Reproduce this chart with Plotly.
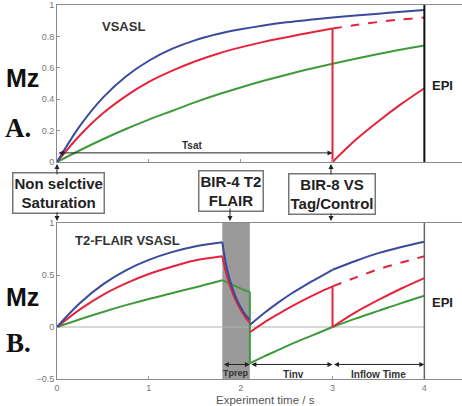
import plotly.graph_objects as go

# ---------------- data ----------------
# Panel A (VSASL)
t_a = [0, 0.25, 0.5, 0.75, 1.0, 1.25, 1.5, 1.75, 2.0, 2.25, 2.5, 2.75, 3.0, 3.25, 3.5, 3.75, 4.0]
blue_a = [0, 0.23, 0.41, 0.545, 0.645, 0.72, 0.775, 0.815, 0.845, 0.87, 0.89, 0.906, 0.92, 0.933, 0.945, 0.957, 0.968]
green_a = [0, 0.075, 0.145, 0.21, 0.27, 0.325, 0.38, 0.43, 0.475, 0.517, 0.556, 0.592, 0.626, 0.658, 0.688, 0.716, 0.742]
t_a_red = [0, 0.25, 0.5, 0.75, 1.0, 1.25, 1.5, 1.75, 2.0, 2.25, 2.5, 2.75, 3.0]
red_a = [0, 0.17, 0.31, 0.42, 0.51, 0.58, 0.64, 0.69, 0.73, 0.765, 0.795, 0.823, 0.85]
t_a_after = [3.0, 3.25, 3.5, 3.75, 4.0]
red_a_dashed = [0.85, 0.872, 0.892, 0.908, 0.92]
red_a_tag = [0, 0.14, 0.26, 0.37, 0.47]

# Panel B (T2-FLAIR VSASL)
t_b_pre = [0, 0.25, 0.5, 0.75, 1.0, 1.25, 1.5, 1.8]
blue_b_pre = [0, 0.23, 0.41, 0.545, 0.645, 0.72, 0.775, 0.815]
red_b_pre = [0, 0.17, 0.31, 0.42, 0.51, 0.58, 0.64, 0.68]
green_b_pre = [0, 0.075, 0.145, 0.21, 0.27, 0.325, 0.38, 0.45]
t_b_prep = [1.8, 1.85, 1.9, 1.95, 2.0, 2.05, 2.1]
blue_b_prep = [0.815, 0.56, 0.40, 0.28, 0.19, 0.12, 0.07]
red_b_prep = [0.68, 0.49, 0.355, 0.25, 0.165, 0.095, 0.04]
green_b_prep = [0.45, 0.43, 0.41, 0.39, 0.37, 0.35, 0.34]
t_b_inv = [2.1, 2.25, 2.4, 2.55, 2.7, 2.85, 3.0]
blue_b_inv = [0.02, 0.13, 0.23, 0.32, 0.40, 0.475, 0.55]
red_b_inv = [-0.05, 0.04, 0.12, 0.195, 0.265, 0.33, 0.39]
green_b_inv = [-0.35, -0.285, -0.225, -0.165, -0.11, -0.055, 0.0]
t_b_in = [3.0, 3.25, 3.5, 3.75, 4.0]
blue_b_in = [0.55, 0.635, 0.71, 0.77, 0.82]
red_b_dashed = [0.39, 0.475, 0.555, 0.62, 0.68]
red_b_tag = [0.0, 0.14, 0.26, 0.37, 0.47]
green_b_in = [0.0, 0.08, 0.155, 0.23, 0.30]

t_prep = [1.8, 2.1]
t_tag = 3.0
t_epi = 4.0

BLUE = "#3a4a9c"
RED = "#e3243b"
GREEN = "#3f9a3a"
SANS = "Liberation Sans, Arial, sans-serif"
SERIF = "Liberation Serif, Times New Roman, serif"

fig = go.Figure()


def line(x, y, color, xa, ya, dash="solid", shape="spline"):
    fig.add_trace(go.Scatter(x=x, y=y, mode="lines",
                             line=dict(color=color, width=2, dash=dash, shape=shape, smoothing=1.0),
                             xaxis=xa, yaxis=ya, hoverinfo="skip", showlegend=False))


# Panel A
line(t_a, green_a, GREEN, "x", "y")
line(t_a_red, red_a, RED, "x", "y")
line([t_tag, t_tag], [red_a[-1], red_a_tag[0]], RED, "x", "y", shape="linear")
line(t_a_after, red_a_dashed, RED, "x", "y", dash="dash")
line(t_a_after, red_a_tag, RED, "x", "y")
line(t_a, blue_a, BLUE, "x", "y")

# Panel B
line(t_b_pre, green_b_pre, GREEN, "x2", "y2")
line(t_b_pre, red_b_pre, RED, "x2", "y2")
line(t_b_pre, blue_b_pre, BLUE, "x2", "y2")
line(t_b_prep, green_b_prep, GREEN, "x2", "y2", shape="linear")
line([t_prep[1], t_prep[1]], [green_b_prep[-1], green_b_inv[0]], GREEN, "x2", "y2", shape="linear")
line(t_b_prep, red_b_prep, RED, "x2", "y2")
line(t_b_prep, blue_b_prep, BLUE, "x2", "y2")
line(t_b_inv, green_b_inv, GREEN, "x2", "y2")
line(t_b_in, green_b_in, GREEN, "x2", "y2")
line(t_b_inv, red_b_inv, RED, "x2", "y2")
line([t_tag, t_tag], [red_b_inv[-1], red_b_tag[0]], RED, "x2", "y2", shape="linear")
line(t_b_in, red_b_dashed, RED, "x2", "y2", dash="dash")
line(t_b_in, red_b_tag, RED, "x2", "y2")
line(t_b_inv, blue_b_inv, BLUE, "x2", "y2")
line(t_b_in, blue_b_in, BLUE, "x2", "y2")

W, H = 462, 406
x_dom = [57 / W, 1.0]
x_rng = [0, 4.41]
ya_dom = [1 - 162 / H, 1 - 5 / H]
yb_dom = [1 - 379 / H, 1 - 223 / H]

axcommon = dict(showgrid=False, zeroline=False, showline=True, linecolor="#8a8a8a", linewidth=1,
                automargin=False,
                ticks="inside", ticklen=3, tickcolor="#999", tickfont=dict(family=SANS, size=9, color="#777"))

fig.update_layout(
    template="none",
    width=W, height=H, margin=dict(l=0, r=0, t=0, b=0, pad=0, autoexpand=False),
    plot_bgcolor="white", paper_bgcolor="white", showlegend=False,
    xaxis=dict(domain=x_dom, range=x_rng, anchor="y", tickvals=[0, 1, 2, 3, 4], showticklabels=False,
               mirror=True, **axcommon),
    yaxis=dict(domain=ya_dom, range=[0, 1], anchor="x", tickvals=[0, 0.2, 0.4, 0.6, 0.8, 1],
               ticktext=["0", "0.2", "0.4", "0.6", "0.8", "1"], **axcommon),
    xaxis2=dict(domain=x_dom, range=x_rng, anchor="y2", tickvals=[0, 1, 2, 3, 4], mirror=True,
                ticklabelstandoff=0, **axcommon),
    yaxis2=dict(domain=yb_dom, range=[-0.5, 1], anchor="x2", tickvals=[-0.5, 0, 0.5, 1],
                ticktext=["\u22120.5", "0", "0.5", "1"], **axcommon),
)

# shapes
fig.add_shape(type="rect", xref="x2", yref="y2", x0=t_prep[0], x1=t_prep[1], y0=-0.5, y1=1,
              fillcolor="#9a9a9a", line=dict(width=0), layer="below")
fig.add_shape(type="line", xref="x2", yref="y2", x0=0, x1=t_epi, y0=0, y1=0,
              line=dict(color="#b0b0b0", width=1), layer="below")
fig.add_shape(type="line", xref="x", yref="y", x0=t_epi, x1=t_epi, y0=0, y1=1,
              line=dict(color="#111", width=2))
fig.add_shape(type="line", xref="x2", yref="y2", x0=t_epi, x1=t_epi, y0=-0.5, y1=1,
              line=dict(color="#666", width=1.5))


def txt(text, x, y, size, xref="paper", yref="paper", family=SANS, color="#111", bold=True):
    fig.add_annotation(text=f"<b>{text}</b>" if bold else text, x=x, y=y, xref=xref, yref=yref,
                       showarrow=False, font=dict(family=family, size=size, color=color),
                       xanchor="center", yanchor="middle")


# labels
txt("Mz", 22 / W, 1 - 78 / H, 25)
txt("Mz", 22 / W, 1 - 297 / H, 25)
txt("A.", 18 / W, 1 - 128 / H, 27, family=SERIF)
txt("B.", 18 / W, 1 - 343 / H, 27, family=SERIF)
txt("VSASL", 0.72, 0.86, 13, xref="x", yref="y", color="#333")
txt("T2-FLAIR VSASL", 0.77, 0.83, 13, xref="x2", yref="y2", color="#333")
txt("EPI", 4.2, 0.49, 13, xref="x", yref="y", color="#222")
txt("EPI", 4.2, 0.24, 13, xref="x2", yref="y2", color="#222")
txt("Tsat", 1.47, 0.105, 10, xref="x", yref="y", color="#333")
txt("Tprep", 1.95, -0.445, 9, xref="x2", yref="y2", color="#333")
txt("Tinv", 2.57, -0.455, 10, xref="x2", yref="y2", color="#333")
txt("Inflow Time", 3.5, -0.455, 10, xref="x2", yref="y2", color="#333")
txt("Experiment time / s", 265 / W, 1 - 399.5 / H, 11.5, color="#555", bold=False)


def darrow(x0, x1, y, xref, yref):
    fig.add_annotation(x=x1, y=y, ax=x0, ay=y, xref=xref, yref=yref, axref=xref, ayref=yref,
                       text="", showarrow=True, arrowside="end+start", arrowhead=2, startarrowhead=2,
                       arrowsize=1, startarrowsize=1, arrowwidth=1, arrowcolor="#222")


darrow(0.0, t_tag, 0.058, "x", "y")
darrow(t_prep[0], t_prep[1], -0.36, "x2", "y2")
darrow(t_prep[1], t_tag, -0.36, "x2", "y2")
darrow(t_tag, t_epi, -0.36, "x2", "y2")


def box(text, cx, cy):
    fig.add_annotation(text=f"<b>{text}</b>", x=cx / W, y=1 - cy / H, xref="paper", yref="paper",
                       showarrow=False, font=dict(family=SANS, size=15, color="#222"),
                       bordercolor="#777", borderwidth=1.5, borderpad=1, bgcolor="white",
                       xanchor="center", yanchor="middle")


def varrow(px, tip_y, tail_y):
    fig.add_annotation(x=px / W, y=1 - tip_y / H, xref="paper", yref="paper", text="", showarrow=True,
                       ax=0, ay=tail_y - tip_y, arrowhead=2, arrowsize=1, arrowwidth=1, arrowcolor="#222")


box("Non selctive<br>Saturation", 58, 193)
box("BIR-4 T2<br>FLAIR", 231, 191)
box("BIR-8 VS<br>Tag/Control", 332, 194)
varrow(57, 164, 176)
varrow(57, 221, 211)
varrow(230, 221, 207)
varrow(331, 164, 176)
varrow(331, 221, 212)

fig.write_html("out.html", config={"displayModeBar": False},
               post_script="document.body.style.margin='0';document.body.style.padding='0';")
